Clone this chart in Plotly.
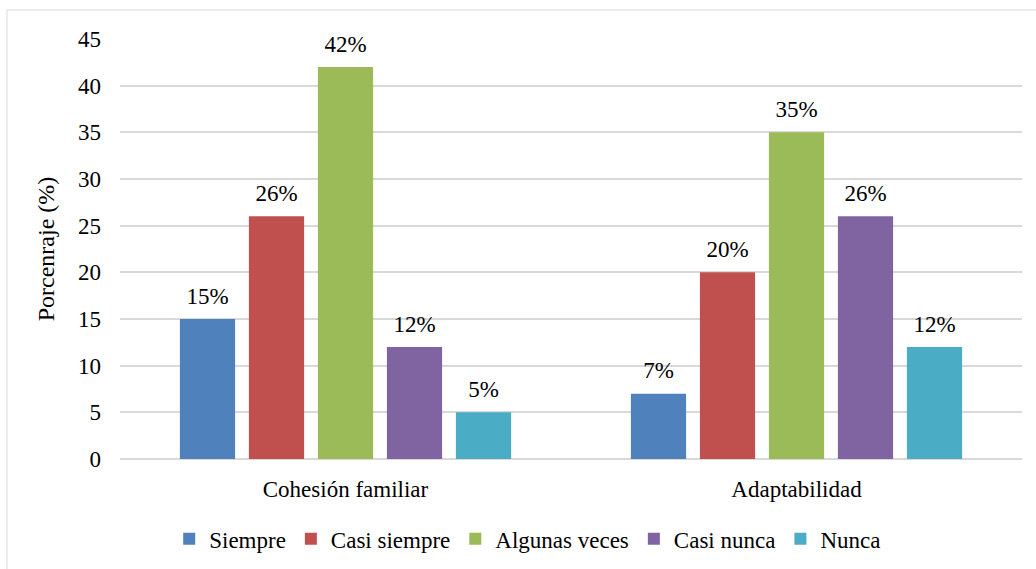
import plotly.graph_objects as go

categories = ["Cohesión familiar", "Adaptabilidad"]
series_names = ["Siempre", "Casi siempre", "Algunas veces", "Casi nunca", "Nunca"]
values = {
    "Siempre": [15, 7],
    "Casi siempre": [26, 20],
    "Algunas veces": [42, 35],
    "Casi nunca": [12, 26],
    "Nunca": [5, 12],
}
colors = ["#4F81BD", "#C0504D", "#9BBB59", "#8064A2", "#4BACC6"]
y_ticks = [0, 5, 10, 15, 20, 25, 30, 35, 40, 45]

FONT = "Liberation Serif"

fig = go.Figure()
for name, col in zip(series_names, colors):
    fig.add_trace(go.Bar(
        name=name, x=categories, y=values[name],
        marker=dict(color=col, line=dict(width=0)),
        offsetgroup=name,
    ))
for name in series_names:
    fig.add_trace(go.Scatter(
        x=categories, y=values[name], mode="markers+text",
        text=[f"{v}%" for v in values[name]], textposition="top center",
        textfont=dict(family=FONT, size=23, color="#000000"),
        marker=dict(size=14, opacity=0),
        offsetgroup=name, showlegend=False, hoverinfo="skip", cliponaxis=False,
    ))

fig.update_layout(
    width=1036, height=569,
    margin=dict(l=120, r=14, t=39, b=110, autoexpand=False),
    paper_bgcolor="white", plot_bgcolor="white",
    barmode="group", bargap=0.235, bargroupgap=0.2,
    scattermode="group", scattergap=0.235,
    font=dict(family=FONT, size=23, color="#000000"),
    showlegend=True,
    legend=dict(orientation="h", x=0.452, xanchor="center", y=-0.19, yanchor="middle",
                font=dict(family=FONT, size=23, color="#000000"), itemwidth=30,
                traceorder="normal"),
    xaxis=dict(showgrid=False, showline=False, ticks="", ticklabelstandoff=14,
               automargin=False, tickfont=dict(family=FONT, size=23)),
    yaxis=dict(range=[0, 45], tickvals=y_ticks, showgrid=True, gridcolor="#d9d9d9",
               gridwidth=1.5, zeroline=True, zerolinecolor="#d9d9d9", zerolinewidth=1.5,
               showline=False, ticks="", ticklen=0, ticklabelstandoff=18, automargin=False,
               tickfont=dict(family=FONT, size=23),
               title=dict(text="Porcenraje (%)", font=dict(family=FONT, size=24), standoff=16)),
    shapes=[dict(type="rect", xref="paper", yref="paper",
                 x0=(7 - 120) / 902, x1=1.2,
                 y0=-0.5, y1=1 + (39 - 10) / 420,
                 line=dict(color="#d9d9d9", width=1), layer="below")],
)

fig.write_html("out.html", config={"displayModeBar": False},
               post_script="document.body.style.margin='0';document.body.style.overflow='hidden';")
